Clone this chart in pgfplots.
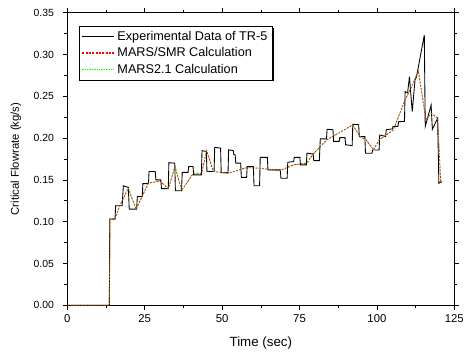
\documentclass[border=0pt]{standalone}
\usepackage{fontspec}
\setmainfont{Liberation Sans}
\usepackage{pgfplots}
\pgfplotsset{compat=1.18}
\begin{document}
\begin{tikzpicture}
\begin{axis}[
  scale only axis,
  width=290.25pt, height=219.5pt,
  xmin=0, xmax=125, ymin=0, ymax=0.35,
  xtick={0,25,50,75,100,125},
  ytick={0,0.05,0.10,0.15,0.20,0.25,0.30,0.35},
  minor x tick num=1, minor y tick num=1,
  tick align=outside, xtick pos=both, ytick pos=both,
  major tick length=3.5pt, minor tick length=2.2pt,
  axis line style={line width=0.6pt},
  every tick/.style={black, line width=0.5pt},
  /pgf/number format/assume math mode=true,
  yticklabel style={/pgf/number format/.cd, fixed, fixed zerofill, precision=2, /tikz/.cd, font=\fontsize{7.8}{9}\selectfont, xshift=-3pt},
  xticklabel style={font=\fontsize{8.5}{10}\selectfont},
  scaled y ticks=false,
  xlabel={Time (sec)},
  ylabel={Critical Flowrate (kg/s)},
  xlabel style={font=\fontsize{10}{12}\selectfont, at={(rel axis cs:0.5,0)}, anchor=center, yshift=-28.3pt},
  ylabel style={font=\fontsize{8.5}{10}\selectfont, at={(rel axis cs:0,0.5)}, anchor=center, rotate=0, yshift=38.5pt},
  legend style={name=leg, at={(axis description cs:0.031,0.9545)}, anchor=north west,
    font=\fontsize{9.5}{11}\selectfont, inner sep=1.5pt, row sep=0pt},
  legend cell align=left,
  legend image code/.code={\draw[#1] (0pt,0pt) -- (24pt,0pt);},
]
\addlegendimage{color=black, draw=black, line width=0.65pt}
\addlegendentry{Experimental Data of TR-5}
\addlegendimage{color=red, draw=red, line width=0.8pt, dash pattern=on 1.5pt off 1pt}
\addlegendentry{MARS/SMR Calculation}
\addlegendimage{color=green, draw=green, line width=0.9pt, dash pattern=on 1pt off 0.8pt}
\addlegendentry{MARS2.1 Calculation}
\addplot[draw=black, line width=0.65pt, forget plot] coordinates {
(0,0) (13.57,0) (13.7,0.1033) (15.4,0.1030) (15.6,0.119) (17.7,0.119) (18.1,0.143) (19.7,0.141) (20.0,0.115) (22.4,0.115) (22.6,0.130) (24.2,0.130) (24.4,0.1455) (26.2,0.1455) (26.4,0.160) (28.4,0.160) (28.6,0.150) (30.2,0.150) (30.4,0.1395) (32.6,0.1395) (32.8,0.1706) (34.7,0.1700) (34.9,0.137) (36.9,0.137) (37.1,0.159) (39.0,0.159) (39.2,0.166) (40.6,0.166) (40.8,0.156) (43.3,0.156) (43.5,0.185) (44.9,0.184) (45.1,0.160) (47.4,0.160) (47.6,0.189) (49.5,0.188) (49.7,0.1587) (51.9,0.1587) (52.1,0.186) (53.6,0.185) (53.8,0.180) (54.2,0.180) (54.4,0.170) (56.0,0.170) (56.2,0.153) (57.9,0.153) (58.1,0.166) (60.1,0.166) (60.3,0.143) (62.1,0.143) (62.3,0.177) (64.6,0.177) (64.8,0.162) (68.8,0.162) (69.0,0.152) (71.0,0.152) (71.2,0.171) (73.1,0.172) (73.3,0.177) (75.1,0.177) (75.3,0.168) (77.2,0.168) (77.4,0.182) (79.4,0.181) (79.6,0.173) (81.4,0.173) (81.7,0.199) (83.7,0.199) (83.9,0.2105) (85.8,0.210) (86.0,0.196) (87.8,0.196) (88.0,0.2005) (89.7,0.2005) (89.9,0.192) (92.0,0.191) (92.2,0.2165) (94.1,0.2160) (94.3,0.2017) (96.1,0.2017) (96.3,0.1818) (98.4,0.1818) (98.6,0.1858) (100.7,0.1858) (100.9,0.2037) (102.8,0.2020) (103.0,0.2100) (105.0,0.2110) (105.2,0.214) (106.8,0.214) (107.0,0.2196) (108.9,0.2200) (109.1,0.2556) (109.9,0.2540) (110.5,0.2735) (111.4,0.2316) (112.3,0.2695) (112.8,0.2735) (115.3,0.3233) (115.6,0.2137) (117.5,0.2396) (117.9,0.2105) (119.6,0.2237) (120.0,0.146) (121.0,0.148)
};
\addplot[draw=red, line width=0.6pt, dash pattern=on 1.5pt off 1pt, forget plot] coordinates {
(0,0) (13.57,0) (13.78,0.1033) (15.40,0.1033) (17.0,0.120) (19.7,0.140) (22.18,0.1148) (26.16,0.146) (29.93,0.1487) (32.62,0.1396) (34.78,0.1659) (36.93,0.1372) (40.70,0.158) (43.39,0.158) (45.0,0.185) (47.16,0.160) (52.0,0.158) (57.92,0.1647) (62.23,0.1639) (68.69,0.161) (73.0,0.1679) (77.3,0.170) (79.46,0.181) (83.76,0.1978) (92.16,0.2157) (94.53,0.2018) (96.47,0.198) (98.84,0.186) (100.78,0.198) (105.3,0.2097) (109.07,0.2456) (111.22,0.2616) (113.37,0.2803) (115.5,0.2300) (115.9,0.2217) (117.5,0.2297) (119.6,0.2237) (120.6,0.1467) (121.0,0.1487)
};
\addplot[draw=green!85!black, line width=0.6pt, dash pattern=on 0.6pt off 1.6pt, forget plot] coordinates {
(0,0) (13.57,0) (13.78,0.1033) (15.40,0.1033) (17.0,0.120) (19.7,0.140) (22.18,0.1148) (26.16,0.146) (29.93,0.1487) (32.62,0.1396) (34.78,0.1659) (36.93,0.1372) (40.70,0.158) (43.39,0.158) (45.0,0.185) (47.16,0.160) (52.0,0.158) (57.92,0.1647) (62.23,0.1639) (68.69,0.161) (73.0,0.1679) (77.3,0.170) (79.46,0.181) (83.76,0.1978) (92.16,0.2157) (94.53,0.2018) (96.47,0.198) (98.84,0.186) (100.78,0.198) (105.3,0.2097) (109.07,0.2456) (111.22,0.2616) (113.37,0.2803) (115.5,0.2300) (115.9,0.2217) (117.5,0.2297) (119.6,0.2237) (120.6,0.1467) (121.0,0.1487)
};
\coordinate (ll) at (rel axis cs:0,0);
\coordinate (ur) at (rel axis cs:1,1);
\end{axis}
\draw[black, line width=1pt] ([xshift=0.5pt,yshift=-1.2pt]leg.north east) -- ([xshift=0.5pt,yshift=-0.5pt]leg.south east) -- ([xshift=1.2pt,yshift=-0.5pt]leg.south west);
\pgfresetboundingbox
\useasboundingbox ([shift={(-50.5pt,-39.5pt)}]ll) rectangle ([shift={(8pt,9.5pt)}]ur);
\end{tikzpicture}
\end{document}
